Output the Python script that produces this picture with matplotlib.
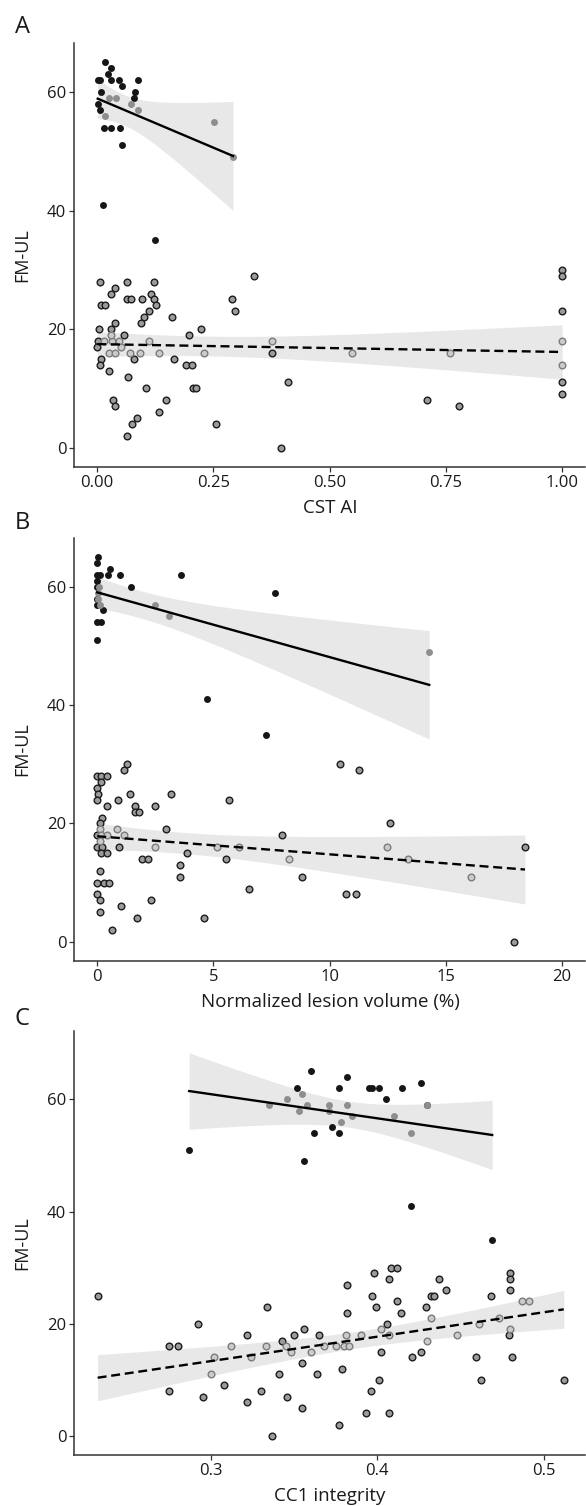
import numpy as np
import matplotlib
matplotlib.use("Agg")
import matplotlib.pyplot as plt

plt.rcParams['font.family'] = ['Open Sans', 'DejaVu Sans']

# ---- panel A: CST AI ----
a_hi_black_x = [0.017, 0.030, 0.024, 0.001, 0.005, 0.030, 0.047, 0.054, 0.087, 0.008,
                0.081, 0.080, 0.001, 0.005, 0.015, 0.030, 0.050, 0.053, 0.013, 0.124]
a_hi_black_y = [65, 64, 63, 62, 62, 62, 62, 61, 62, 60, 60, 59, 58, 57, 54, 54, 54, 51, 41, 35]
a_hi_gray_x = [0.025, 0.040, 0.072, 0.088, 0.016, 0.252, 0.292]
a_hi_gray_y = [59, 59, 58, 57, 56, 55, 49]
a_lo_dark_x = [0.006, 0.064, 0.123, 0.337, 0.038, 0.029, 0.115, 0.007, 0.016, 0.064,
               0.073, 0.097, 0.123, 0.127, 0.289, 0.297, 0.111, 0.101, 0.094, 0.160,
               0.039, 0.004, 0.029, 0.223, 0.198, 0.057, 0.001, 0.000, 0.079, 0.166,
               0.009, 0.005, 0.190, 0.204, 0.025, 0.066, 0.104, 0.206, 0.213, 0.147,
               0.034, 0.038, 0.133, 0.085, 0.075, 0.256, 0.065, 0.395, 0.411, 0.709,
               0.779, 1.0, 1.0, 1.0, 1.0, 1.0, 0.375]
a_lo_dark_y = [28, 28, 28, 29, 27, 26, 26, 24, 24, 25, 25, 25, 25, 24, 25, 23, 23, 22, 21, 22,
               21, 20, 20, 20, 19, 19, 18, 17, 15, 15, 15, 14, 14, 14, 13, 12, 10, 10, 10, 8,
               8, 7, 6, 5, 4, 4, 2, 0, 11, 8, 7, 30, 29, 23, 11, 9, 16]
a_lo_light_x = [0.014, 0.031, 0.046, 0.029, 0.026, 0.039, 0.052, 0.071, 0.093, 0.111,
                0.133, 0.229, 0.375, 0.549, 0.759, 1.0, 1.0]
a_lo_light_y = [18, 18, 18, 19, 16, 16, 17, 16, 16, 18, 16, 16, 18, 16, 16, 18, 14]

# ---- panel B: normalized lesion volume ----
b_hi_black_x = [0.05, 0.0, 0.54, 0.0, 0.13, 0.45, 1.0, 3.59, 0.0, 1.45,
                0.0, 7.63, 0.0, 0.0, 0.26, 0.0, 0.16, 0.0, 4.71, 7.24]
b_hi_black_y = [65, 64, 63, 62, 62, 62, 62, 62, 61, 60, 60, 59, 58, 57, 56, 54, 54, 51, 41, 35]
b_hi_gray_x = [0.03, 0.08, 0.05, 0.12, 2.48, 3.09, 14.28]
b_hi_gray_y = [59, 60, 58, 57, 57, 55, 49]
b_lo_dark_x = [0.0, 0.16, 0.4, 0.16, 0.0, 0.05, 0.0, 0.4, 0.2, 0.1,
               0.0, 0.0, 0.2, 0.18, 0.44, 0.1, 0.0, 0.28, 0.49, 0.0,
               0.1, 0.1, 0.62, 1.27, 1.14, 1.4, 0.9, 1.62, 1.63, 1.81,
               2.5, 2.95, 0.95, 1.92, 2.2, 1.03, 1.72, 2.3, 3.16, 3.57,
               3.57, 3.88, 4.6, 5.52, 5.65, 6.52, 7.93, 8.81, 10.72, 11.12,
               10.45, 11.25, 12.58, 17.92, 18.4]
b_lo_dark_y = [28, 28, 28, 27, 26, 25, 24, 23, 21, 20, 18, 16, 16, 15, 15, 12, 10, 10, 10, 8,
               7, 5, 2, 30, 29, 25, 24, 23, 22, 22, 23, 19, 16, 14, 14, 6, 4, 7, 25, 13,
               11, 15, 4, 14, 24, 9, 18, 11, 8, 8, 30, 29, 20, 0, 16]
b_lo_light_x = [0.1, 0.15, 0.4, 0.83, 1.13, 0.1, 2.5, 5.16, 6.09, 8.24, 12.47, 13.38, 16.07]
b_lo_light_y = [19, 18, 18, 19, 18, 17, 16, 16, 16, 14, 16, 14, 11]

# ---- panel C: CC1 integrity ----
c_hi_black_x = [0.287, 0.352, 0.360, 0.356, 0.362, 0.373, 0.377, 0.377, 0.382, 0.395,
                0.397, 0.401, 0.405, 0.415, 0.426, 0.430, 0.420, 0.469]
c_hi_black_y = [51, 62, 65, 49, 54, 55, 54, 62, 64, 62, 62, 62, 60, 62, 63, 59, 41, 35]
c_hi_gray_x = [0.335, 0.346, 0.353, 0.355, 0.358, 0.371, 0.371, 0.378, 0.382, 0.385,
               0.410, 0.420, 0.430]
c_hi_gray_y = [59, 60, 58, 61, 59, 59, 58, 56, 59, 57, 57, 54, 59]
c_lo_dark_x = [0.232, 0.275, 0.280, 0.275, 0.292, 0.295, 0.308, 0.322, 0.322, 0.330,
               0.334, 0.337, 0.343, 0.341, 0.346, 0.350, 0.355, 0.355, 0.356, 0.364,
               0.365, 0.379, 0.382, 0.382, 0.377, 0.397, 0.398, 0.399, 0.396, 0.393,
               0.406, 0.402, 0.401, 0.407, 0.408, 0.412, 0.407, 0.412, 0.414, 0.421,
               0.426, 0.429, 0.432, 0.434, 0.437, 0.441, 0.459, 0.462, 0.468, 0.480,
               0.480, 0.480, 0.479, 0.481, 0.512]
c_lo_dark_y = [25, 16, 16, 8, 20, 7, 9, 18, 6, 8, 23, 0, 17, 11, 7, 18, 13, 5, 19, 11,
               18, 12, 27, 22, 2, 25, 29, 23, 8, 4, 20, 15, 10, 28, 30, 30, 4, 24, 22, 14,
               15, 23, 25, 25, 28, 26, 14, 10, 25, 29, 28, 26, 18, 14, 10]
c_lo_light_x = [0.300, 0.302, 0.312, 0.324, 0.333, 0.345, 0.348, 0.360, 0.368, 0.375,
                0.380, 0.383, 0.381, 0.390, 0.402, 0.407, 0.430, 0.432, 0.448, 0.461,
                0.473, 0.480, 0.487, 0.491]
c_lo_light_y = [11, 14, 16, 14, 16, 16, 15, 15, 16, 16, 16, 16, 18, 18, 19, 18, 17, 21, 18, 20,
                21, 19, 24, 24]

W, H = 586, 1506
fig = plt.figure(figsize=(W / 100, H / 100), dpi=100)

AX_COLOR = '#333333'
TXT = '#1a1a1a'


def t975(df):
    # Cornish-Fisher approximation of the 97.5% t quantile
    z = 1.959964
    return z + (z**3 + z) / (4 * df) + (5 * z**5 + 16 * z**3 + 3 * z) / (96 * df**2)


def lm_band(ax, x, y, ls):
    x = np.asarray(x, float)
    y = np.asarray(y, float)
    n = len(x)
    slope, icpt = np.polyfit(x, y, 1)
    xs = np.linspace(x.min(), x.max(), 100)
    yhat = icpt + slope * xs
    resid = y - (icpt + slope * x)
    s = np.sqrt(np.sum(resid**2) / (n - 2))
    se = s * np.sqrt(1 / n + (xs - x.mean())**2 / np.sum((x - x.mean())**2))
    t = t975(n - 2)
    ax.fill_between(xs, yhat - t * se, yhat + t * se, color='#e8e8e8', lw=0, zorder=1)
    ax.plot(xs, yhat, color='black', lw=1.7, ls=ls, zorder=4)


def panel(top_px, bot_px, hb, hg, ld, ll, xlim, ylim, xticks, xticklabels, xlabel,
          letter, letter_y):
    left = 74 / W
    ax = fig.add_axes([left, 1 - bot_px / H, 1 - left - 0.001, (bot_px - top_px) / H])
    lm_band(ax, hb[0] + hg[0], hb[1] + hg[1], '-')
    lm_band(ax, ld[0] + ll[0], ld[1] + ll[1], (0, (3.8, 2.0)))
    ax.scatter(hb[0], hb[1], s=25, color='#161616', lw=0, zorder=3)
    ax.scatter(hg[0], hg[1], s=25, color='#8e8e8e', lw=0, zorder=3)
    ax.scatter(ld[0], ld[1], s=23, facecolor='#9b9b9b', edgecolor='#1c1c1c', lw=1.0, zorder=3)
    ax.scatter(ll[0], ll[1], s=23, facecolor='#cbcbcb', edgecolor='#7c7c7c', lw=1.0, zorder=3)
    ax.set_xlim(*xlim)
    ax.set_ylim(*ylim)
    ax.set_xticks(xticks)
    ax.set_xticklabels(xticklabels)
    ax.set_yticks([0, 20, 40, 60])
    for side in ['top', 'right']:
        ax.spines[side].set_visible(False)
    for side in ['left', 'bottom']:
        ax.spines[side].set_color(AX_COLOR)
        ax.spines[side].set_linewidth(1.1)
    ax.tick_params(direction='out', length=3.5, width=0.9, color=AX_COLOR,
                   labelsize=12, labelcolor=TXT, pad=2)
    mid_y = 1 - (top_px + bot_px) / 2 / H
    fig.text(22 / W, mid_y, 'FM-UL', rotation=90, ha='center', va='center',
             fontsize=13, color=TXT)
    fig.text((74 + 586) / 2 / W, 1 - (bot_px + 41) / H, xlabel, ha='center', va='center',
             fontsize=13.5, color=TXT)
    fig.text(22 / W, 1 - letter_y / H, letter, ha='center', va='center',
             fontsize=17, color=TXT)
    return ax


panel(43, 467, (a_hi_black_x, a_hi_black_y), (a_hi_gray_x, a_hi_gray_y),
      (a_lo_dark_x, a_lo_dark_y), (a_lo_light_x, a_lo_light_y),
      (-0.05, 1.05), (-3.25, 68.25), [0, 0.25, 0.5, 0.75, 1.0],
      ['0.00', '0.25', '0.50', '0.75', '1.00'], 'CST AI', 'A', 27)

panel(538, 961, (b_hi_black_x, b_hi_black_y), (b_hi_gray_x, b_hi_gray_y),
      (b_lo_dark_x, b_lo_dark_y), (b_lo_light_x, b_lo_light_y),
      (-1.0, 21.0), (-3.25, 68.25), [0, 5, 10, 15, 20],
      ['0', '5', '10', '15', '20'], 'Normalized lesion volume (%)', 'B', 523)

panel(1031, 1455, (c_hi_black_x, c_hi_black_y), (c_hi_gray_x, c_hi_gray_y),
      (c_lo_dark_x, c_lo_dark_y), (c_lo_light_x, c_lo_light_y),
      (0.2178, 0.525), (-3.4, 72.2), [0.3, 0.4, 0.5],
      ['0.3', '0.4', '0.5'], 'CC1 integrity', 'C', 1019)

fig.savefig('out.png', dpi=100)
